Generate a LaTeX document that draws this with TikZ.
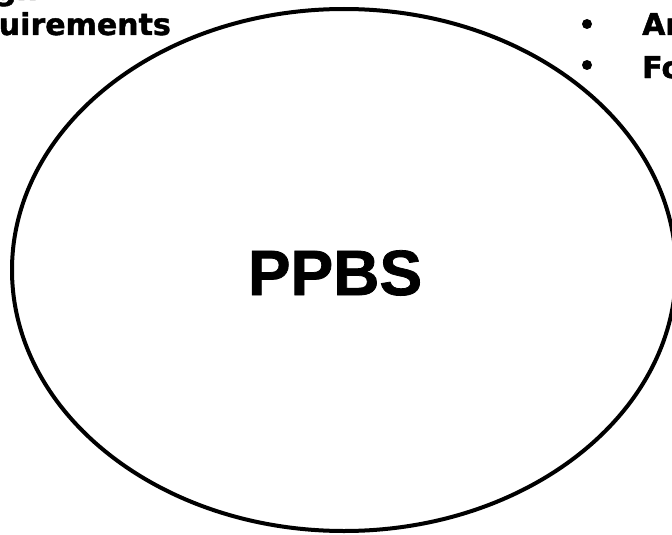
\documentclass[tikz,border=0pt]{standalone}
\usepackage{fontspec}
\newfontfamily\labelfont{DejaVu Sans}[BoldFeatures={FakeBold=1.5}]
\newfontfamily\titlefont{Liberation Sans}[BoldFeatures={FakeBold=1.2}]
\usepackage{tikz}
\usetikzlibrary{positioning}

\begin{document}
\begin{tikzpicture}[x=1pt,y=-1pt,
    sidetext/.style={inner sep=0pt,font=\labelfont\bfseries\fontsize{30}{34}\selectfont},
    bulletdot/.style={circle,fill=black,inner sep=0pt,minimum size=10pt}]
  \useasboundingbox (0,0) rectangle (672,535);
  \clip (0,0) rectangle (672,535);
  % cropped labels, left
  \node[sidetext,anchor=base east] (design) at (38,0) {Design};
  \node[sidetext,anchor=base east] (requirements) at (171,35) {Requirements};
  % cropped bullet list, right
  \node[bulletdot] (dotone) at (587,24) {};
  \node[bulletdot] (dottwo) at (587,65) {};
  \node[sidetext,anchor=base west] (arch) at (642,35) {Architecture};
  \node[sidetext,anchor=base west] (force) at (642,78) {Force Structure};
  % the big ellipse
  \draw[line width=4pt] (344,270) ellipse [x radius=332,y radius=261];
  \node[inner sep=0pt,anchor=base,font=\titlefont\bfseries\fontsize{64}{70}\selectfont] (ppbs) at (335,295) {PPBS};
\end{tikzpicture}
\end{document}
